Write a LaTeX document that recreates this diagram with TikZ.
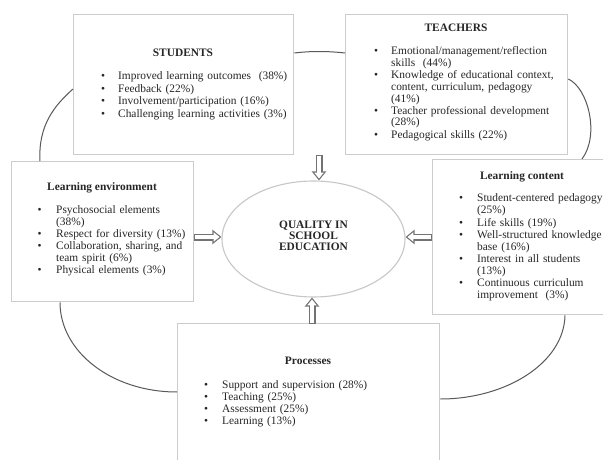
\documentclass[tikz,border=0pt]{standalone}
\usepackage{fontspec}
\setmainfont{Liberation Serif}
\usetikzlibrary{shapes.geometric,arrows.meta,calc}
\newlength\bgap
\newcommand\itm[1]{\par\noindent\llap{\textbullet\hspace{\bgap}}\rule{0pt}{8.5pt}#1}
\newcommand\lsetup[2]{\hyphenpenalty=10000\relax\setlength\bgap{#1}\setlength\baselineskip{#2}}
\begin{document}
\begin{tikzpicture}[x=1pt,y=-1pt,
  every node/.style={text=black!85},
  box/.style={draw=black!20, line width=1.3pt, fill=white, anchor=north west, inner sep=0pt},
  hd/.style={font=\fontsize{11.4pt}{12.1pt}\selectfont\bfseries, anchor=base, inner sep=0pt},
  lst/.style={font=\fontsize{11.4pt}{12.1pt}\selectfont, align=left, anchor=north west, inner sep=0pt},
  loop/.style={draw=black!65, line width=1pt},
  blockarr/.style={draw=black!55, line width=7pt, -{Triangle[length=9pt,width=14pt]},
    postaction={draw=white, line width=4.6pt, -{Triangle[length=5.85pt,width=9.1pt]}, shorten >=1.95pt, shorten <=0.7pt}}
]
\fill[white] (0,0) rectangle (603,460);
\useasboundingbox (0,0) rectangle (603,460);

% boxes
\node[box, minimum width=220pt, minimum height=140pt] (stu) at (73,14) {};
\node[box, minimum width=222pt, minimum height=140pt] (tea) at (345,14) {};
\node[box, minimum width=182pt, minimum height=140pt] (le) at (11,161) {};
\node[box, minimum width=180pt, minimum height=155pt] (lc) at (432,159) {};
\node[box, minimum width=262pt, minimum height=150pt] (pro) at (177,323) {};

% central ellipse
\node[ellipse, draw=black!22, line width=1.1pt, minimum width=183pt, minimum height=116pt, inner sep=0pt] (ell) at (313.5,239) {};
\node[font=\fontsize{11.4pt}{11pt}\selectfont\bfseries, align=center, inner sep=0pt] (elltxt) at (313.5,236) {QUALITY IN\\SCHOOL\\EDUCATION};

% outer loop
\draw[loop] (stu.east |- 0,53) .. controls (311,51) and (327,51) .. (tea.west |- 0,53);
\draw[loop] (tea.east |- 0,79) .. controls (588,88) and (600,135) .. (lc.north -| 582,0);
\draw[loop] (stu.west |- 0,89) .. controls (55,105) and (38,125) .. (le.north -| 40,0);
\draw[loop] (le.south -| 60,0) .. controls (60,352) and (112,392) .. (pro.west |- 0,392);
\draw[loop] (lc.south -| 565,0) .. controls (564,363) and (506,399) .. (pro.east |- 0,399);

% headings
\node[hd] (stuh) at (183,56.5) {STUDENTS};
\node[hd] (teah) at (456,32) {TEACHERS};
\node[hd] (leh) at (102,190) {Learning environment};
\node[hd] (lch) at (522,179) {Learning content};
\node[hd] (proh) at (308,364) {Processes};

% lists
\node[lst, text width=180pt] (stul) at (118,67) {\lsetup{13pt}{12.6pt}%
\itm{Improved learning outcomes\ \ (38\%)}
\itm{Feedback (22\%)}
\itm{Involvement/participation (16\%)}
\itm{Challenging learning activities (3\%)}};

\node[lst, text width=164pt] (teal) at (391,42.5) {\lsetup{13pt}{11.9pt}%
\itm{Emotional/management/reflection skills\ \ (44\%)}
\itm{Knowledge of educational context, content, curriculum, pedagogy (41\%)}
\itm{Teacher professional development (28\%)}
\itm{Pedagogical skills (22\%)}};

\node[lst, text width=130pt] (lel) at (56,201.5) {\lsetup{14.5pt}{12pt}%
\itm{Psychosocial elements (38\%)}
\itm{Respect for diversity (13\%)}
\itm{Collaboration, sharing, and team spirit (6\%)}
\itm{Physical elements (3\%)}};

\node[lst, text width=128pt] (lcl) at (477,189.5) {\lsetup{14pt}{12.1pt}%
\itm{Student-centered pedagogy (25\%)}
\itm{Life skills (19\%)}
\itm{Well-structured knowledge base (16\%)}
\itm{Interest in all students (13\%)}
\itm{Continuous curriculum improvement\ \ (3\%)}};

\node[lst, text width=200pt] (prol) at (222,375.5) {\lsetup{14pt}{12.3pt}%
\itm{Support and supervision (28\%)}
\itm{Teaching (25\%)}
\itm{Assessment (25\%)}
\itm{Learning (13\%)}};

% block arrows
\coordinate (topA) at (319,155);
\coordinate (botA) at (312,323.5);
\draw[blockarr] (topA) -- (topA |- ell.north);
\draw[blockarr] (le.east |- 0,237) -- (ell.west |- 0,237);
\draw[blockarr] (lc.west |- 0,237) -- (ell.east |- 0,237);
\draw[blockarr] (botA) -- (botA |- ell.south);
\end{tikzpicture}
\end{document}
